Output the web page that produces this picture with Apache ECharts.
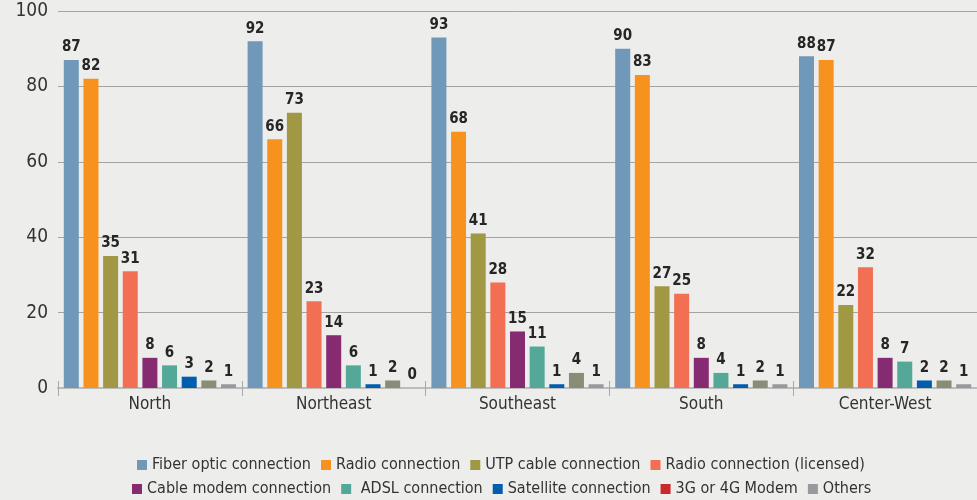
<!DOCTYPE html>
<html>
<head>
<meta charset="utf-8">
<script src="https://cdn.jsdelivr.net/npm/echarts@6/dist/echarts.min.js"></script>
<style>
html,body{margin:0;padding:0;background:#ededeb;}
#c{width:977px;height:500px;}
</style>
</head>
<body>
<div id="c"></div>
<script>
const categories = ["North", "Northeast", "Southeast", "South", "Center-West"];
const seriesNames = ["Fiber optic connection", "Radio connection", "UTP cable connection", "Radio connection (licensed)", "Cable modem connection", " ADSL connection", "Satellite connection", "3G or 4G Modem", "Others"];
const fiber = [87, 92, 93, 90, 88];
const radio = [82, 66, 68, 83, 87];
const utp = [35, 73, 41, 27, 22];
const radioLicensed = [31, 23, 28, 25, 32];
const cableModem = [8, 14, 15, 8, 8];
const adsl = [6, 6, 11, 4, 7];
const satellite = [3, 1, 1, 1, 2];
const modem3g4g = [2, 2, 4, 2, 2];
const others = [1, 0, 1, 1, 1];
const yTicks = [0, 20, 40, 60, 80, 100];

const values = [fiber, radio, utp, radioLicensed, cableModem, adsl, satellite, modem3g4g, others];
const barColors = ["#6f98b9", "#f7921e", "#a09843", "#f26f53", "#862b71", "#53a898", "#015eae", "#8a8d76", "#98999b"];
const legendColors = ["#6f98b9", "#f7921e", "#a09843", "#f26f53", "#862b71", "#53a898", "#015eae", "#c8282e", "#98999b"];

const FONT = "'Liberation Sans Narrow', 'DejaVu Sans Condensed', 'Roboto', sans-serif";

const chart = echarts.init(document.getElementById('c'));

const series = values.map((v, i) => ({
  name: seriesNames[i],
  type: 'bar',
  data: v,
  barWidth: 15,
  barGap: '31%',
  itemStyle: { color: barColors[i] },
  label: {
    show: true,
    position: 'top',
    distance: 5,
    color: '#262626',
    fontFamily: FONT,
    fontSize: 15,
    fontWeight: 'bold'
  }
}));

const legendItem = (i) => ({ name: seriesNames[i], itemStyle: { color: legendColors[i] } });
const legendCommon = {
  icon: 'rect',
  itemWidth: 10,
  itemHeight: 10,
  itemGap: 10,
  textStyle: { fontFamily: FONT, fontSize: 16, color: '#333' }
};

chart.setOption({
  backgroundColor: '#ededeb',
  animation: false,
  grid: { left: 58, right: -6, top: 11, bottom: 112, containLabel: false },
  legend: [
    Object.assign({}, legendCommon, { left: 132, top: 452, data: [0, 1, 2, 3].map(legendItem) }),
    Object.assign({}, legendCommon, { left: 127, top: 476, data: [4, 5, 6, 7, 8].map(legendItem) })
  ],
  xAxis: [{
    type: 'category',
    data: categories,
    axisLine: { lineStyle: { color: '#bcbcbc', width: 2 } },
    axisTick: { show: true, length: 8, lineStyle: { color: '#a8a8a8' } },
    axisLabel: { fontFamily: FONT, fontSize: 17, color: '#333', margin: 8 }
  }, {
    type: 'category',
    data: categories,
    position: 'bottom',
    axisLine: { show: false },
    axisTick: { show: true, inside: true, length: 7, lineStyle: { color: '#a8a8a8' } },
    axisLabel: { show: false }
  }],
  yAxis: {
    type: 'value',
    min: 0,
    max: 100,
    interval: 20,
    axisLine: { show: false },
    axisTick: { show: false },
    axisLabel: {
      fontFamily: FONT, fontSize: 19, color: '#333', margin: 10,
      formatter: (val) => (yTicks.includes(val) ? String(val) : '')
    },
    splitLine: { lineStyle: { color: '#a3a3a3', width: 1 } }
  },
  series: series
});
</script>
</body>
</html>
